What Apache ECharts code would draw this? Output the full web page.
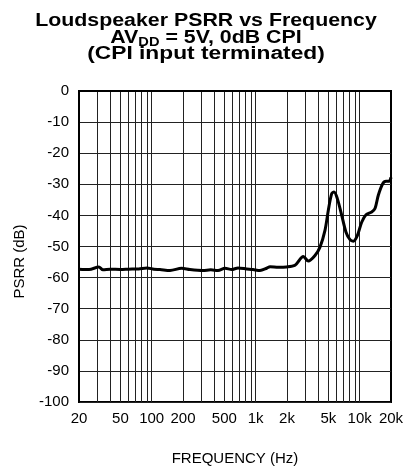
<!DOCTYPE html>
<html>
<head>
<meta charset="utf-8">
<script src="https://cdn.jsdelivr.net/npm/echarts@6/dist/echarts.min.js"></script>
<style>
html,body{margin:0;padding:0;background:#fff;}
#chart{width:403px;height:466px;}
</style>
</head>
<body>
<div id="chart"></div>
<script>
// Data
var freqHz = [20, 25, 31, 34, 40, 50, 60, 75, 90, 105, 120, 150, 194, 233, 311, 370, 434, 507, 588, 676, 819, 942, 1100, 1276, 1374, 1650, 1973, 2388, 2870, 3205, 3717, 4151, 4637, 4989, 5381, 5664, 6095, 6718, 7386, 8072, 8688, 9493, 10450, 11500, 13040, 14030, 15100, 16640, 17910, 19270, 20000];
var psrrDb = [-57.3, -57.4, -56.6, -57.5, -57.3, -57.4, -57.3, -57.2, -56.9, -57.3, -57.4, -57.7, -57.0, -57.4, -57.7, -57.5, -57.7, -57.0, -57.4, -56.9, -57.2, -57.4, -57.7, -57.0, -56.5, -56.7, -56.6, -56.0, -53.2, -54.7, -52.9, -50.2, -44.8, -38.4, -33.0, -32.5, -34.6, -40.0, -45.4, -47.8, -48.3, -46.5, -42.2, -39.8, -38.9, -37.8, -33.5, -29.8, -29.0, -29.0, -27.8];
var xGridValues = [30, 40, 50, 60, 70, 80, 90, 100, 200, 300, 400, 500, 600, 700, 800, 900, 1000, 2000, 3000, 4000, 5000, 6000, 7000, 8000, 9000, 10000];
var xLabelValues = [20, 50, 100, 200, 500, 1000, 2000, 5000, 10000, 20000];
var titleLine1 = 'Loudspeaker PSRR vs Frequency';
var titleLine3 = '(CPI input terminated)';

var FONT = 'Liberation Sans, Arial, Helvetica, sans-serif';
var chart = echarts.init(document.getElementById('chart'));
var lineData = freqHz.map(function (f, i) { return [f, psrrDb[i]]; });

chart.setOption({
  animation: false,
  backgroundColor: '#fff',
  textStyle: { fontFamily: FONT },
  graphic: [
    { type: 'text', x: 206, y: 21, scaleX: 1.22, style: { text: titleLine1, font: 'bold 17.5px ' + FONT, fill: '#000', align: 'center', verticalAlign: 'middle' } },
    { type: 'text', x: 206, y: 38, scaleX: 1.22, style: {
        text: '{a|AV}{s|DD}{a| = 5V, 0dB CPI}',
        align: 'center', verticalAlign: 'middle',
        rich: {
          a: { fontFamily: FONT, fontWeight: 'bold', fontSize: 17.5, color: '#000' },
          s: { fontFamily: FONT, fontWeight: 'bold', fontSize: 12, color: '#000', padding: [9, 0, 0, 0] }
        } } },
    { type: 'text', x: 206, y: 54, scaleX: 1.3, style: { text: titleLine3, font: 'bold 17.5px ' + FONT, fill: '#000', align: 'center', verticalAlign: 'middle' } }
  ],
  grid: { left: 79, right: 12, top: 91, bottom: 64, show: true, borderColor: '#000', borderWidth: 2, containLabel: false, outerBoundsMode: 'none' },
  xAxis: {
    type: 'log', logBase: 10, min: 20, max: 20000,
    name: 'FREQUENCY (Hz)', nameLocation: 'middle', nameGap: 49,
    nameTextStyle: { fontSize: 15, color: '#000', fontFamily: FONT },
    axisLine: { show: true, lineStyle: { color: '#000', width: 2 } },
    axisTick: { show: false, customValues: xGridValues },
    axisLabel: { customValues: xLabelValues, fontSize: 15, color: '#000', margin: 9, fontFamily: FONT,
      formatter: function (v) { return v >= 1000 ? (v / 1000) + 'k' : String(v); } },
    splitLine: { show: true, lineStyle: { color: '#222', width: 1 } }
  },
  yAxis: {
    type: 'value', min: -100, max: 0, interval: 10,
    name: 'PSRR (dB)', nameLocation: 'middle', nameGap: 52,
    nameTextStyle: { fontSize: 15, color: '#000', fontFamily: FONT, padding: [0, 30, 0, 0] },
    axisLine: { show: true, lineStyle: { color: '#000', width: 2 } },
    axisTick: { show: false },
    axisLabel: { fontSize: 15, color: '#000', margin: 10, fontFamily: FONT },
    splitLine: { show: true, lineStyle: { color: '#222', width: 1 } }
  },
  series: [{
    type: 'line', data: lineData, showSymbol: false, smooth: 0.3,
    lineStyle: { color: '#000', width: 3 }, z: 5
  }]
});
</script>
</body>
</html>
